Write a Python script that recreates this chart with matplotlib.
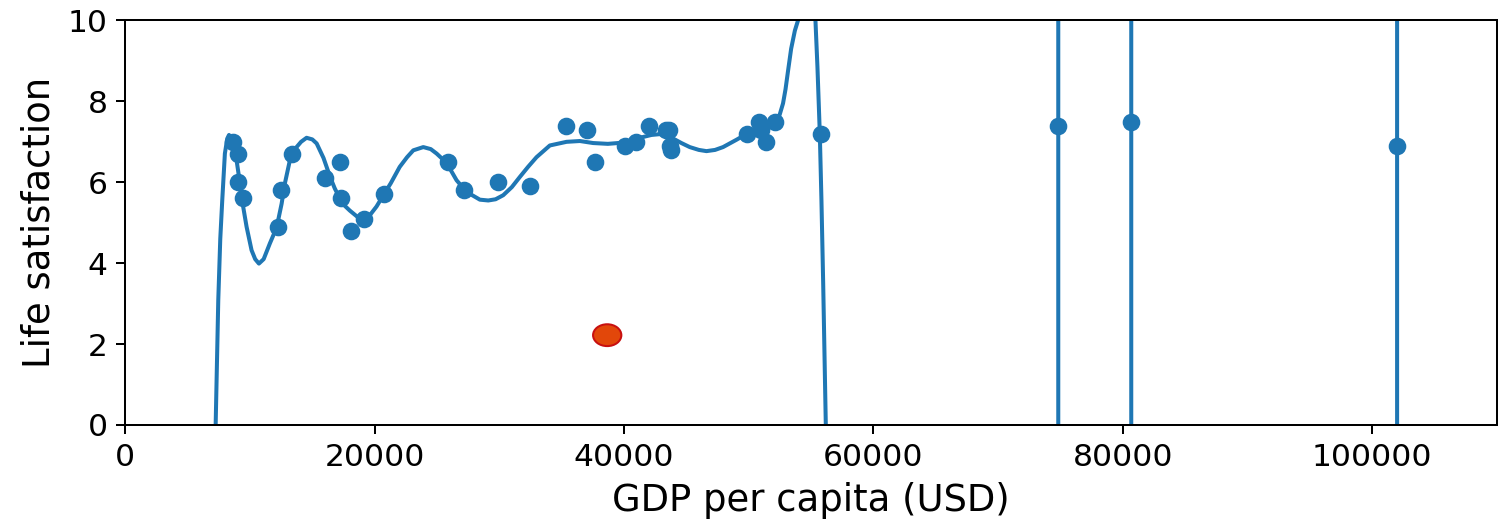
import matplotlib
matplotlib.use("Agg")
import matplotlib.pyplot as plt
from matplotlib.patches import Ellipse

# country data: GDP per capita vs life satisfaction
gdp = [8669.998, 9009.280, 9054.914, 9437.372, 12239.894, 12495.334, 13340.905,
       15991.736, 17256.918, 17288.083, 18064.288, 19121.592, 20732.482, 25864.721,
       27195.197, 29866.581, 32485.545, 35343.336, 37044.891, 37675.006, 40106.632,
       40996.511, 41973.988, 43331.961, 43603.115, 43724.031, 43770.688, 49866.266,
       50854.583, 50961.865, 51350.744, 52114.165, 55805.204, 74822.106, 80675.308,
       101994.093]
life_sat = [7.0, 6.7, 6.0, 5.6, 4.9, 5.8, 6.7,
            6.1, 6.5, 5.6, 4.8, 5.1, 5.7, 6.5,
            5.8, 6.0, 5.9, 7.4, 7.3, 6.5, 6.9,
            7.0, 7.4, 7.3, 7.3, 6.9, 6.8, 7.2,
            7.5, 7.3, 7.0, 7.5, 7.2, 7.4, 7.5,
            6.9]

# overfitted model curve (off-chart parts pushed outside the limits)
curve_x = [7100, 7250, 7460, 7620, 7780, 7990, 8180, 8320, 8480, 8660, 8930,
           9200, 9460, 9730, 10130, 10420, 10720, 11100, 11600, 12140, 12540,
           12800, 13200, 13740, 14100, 14540, 15000, 15350, 15900, 16430, 16800,
           17210, 17600, 18010, 18600, 19080, 19600, 20150, 20700, 21300, 22010,
           22600, 23100, 23900, 24500, 24970, 25770, 26570, 27380, 28440, 29110,
           29700, 30310, 31000, 31640, 32300, 32980, 34050, 35390, 36460, 37520,
           38700, 39930, 40800, 41530, 42200, 42870, 43940, 44600, 45270, 46000,
           46610, 47300, 47940, 49010, 50080, 51420, 52220, 52490, 52750, 52950,
           53150, 53400, 53700, 54050, 54700, 55350, 55510, 55700, 55830, 55970,
           56180, 56400,
           74822, 74822, 80675, 80675, 101994, 101994, 110000]
curve_y = [-1.0, 0.0, 3.09, 4.6, 5.56, 6.71, 7.08, 7.17, 7.12, 6.96, 6.54,
           5.97, 5.39, 4.9, 4.32, 4.1, 3.99, 4.1, 4.49, 4.88, 5.47,
           5.97, 6.54, 6.87, 7.0, 7.1, 7.06, 6.96, 6.6, 6.13, 5.85,
           5.6, 5.42, 5.3, 5.15, 5.08, 5.18, 5.4, 5.68, 5.98, 6.38,
           6.62, 6.79, 6.87, 6.82, 6.71, 6.48, 6.05, 5.76, 5.57, 5.55,
           5.58, 5.68, 5.88, 6.13, 6.38, 6.62, 6.91, 7.0, 7.02, 6.97,
           6.95, 6.98, 7.05, 7.12, 7.17, 7.19, 7.08, 6.97, 6.87, 6.8,
           6.77, 6.8, 6.87, 7.05, 7.24, 7.38, 7.49, 7.68, 7.95, 8.3,
           8.75, 9.3, 9.75, 10.1, 12.0, 10.0, 8.85, 7.2, 5.56, 3.5,
           0.0, -5.0,
           -5.0, 15.0, 15.0, -5.0, -5.0, 15.0, 15.0]

dpi = 181
fig = plt.figure(figsize=(1509 / dpi, 521 / dpi), dpi=dpi)
ax = fig.add_axes([0.0830, 0.1843, 0.9090, 0.7764])

ax.scatter(gdp, life_sat, s=36, color="#1f77b4", zorder=3)
ax.plot(curve_x, curve_y, color="#1f77b4", linewidth=1.6)

# highlighted point
ax.add_patch(Ellipse((38650, 2.22), width=2270, height=0.54,
                     facecolor="#e2470a", edgecolor="#c81010", linewidth=0.8, zorder=4))

ax.set_xlim(0, 110000)
ax.set_ylim(0, 10)
ax.set_xticks([0, 20000, 40000, 60000, 80000, 100000])
ax.set_yticks([0, 2, 4, 6, 8, 10])
ax.tick_params(labelsize=12.5)
ax.set_xlabel("GDP per capita (USD)", fontsize=14.7)
ax.set_ylabel("Life satisfaction", fontsize=14.7)

fig.savefig("out.png", dpi=dpi)
